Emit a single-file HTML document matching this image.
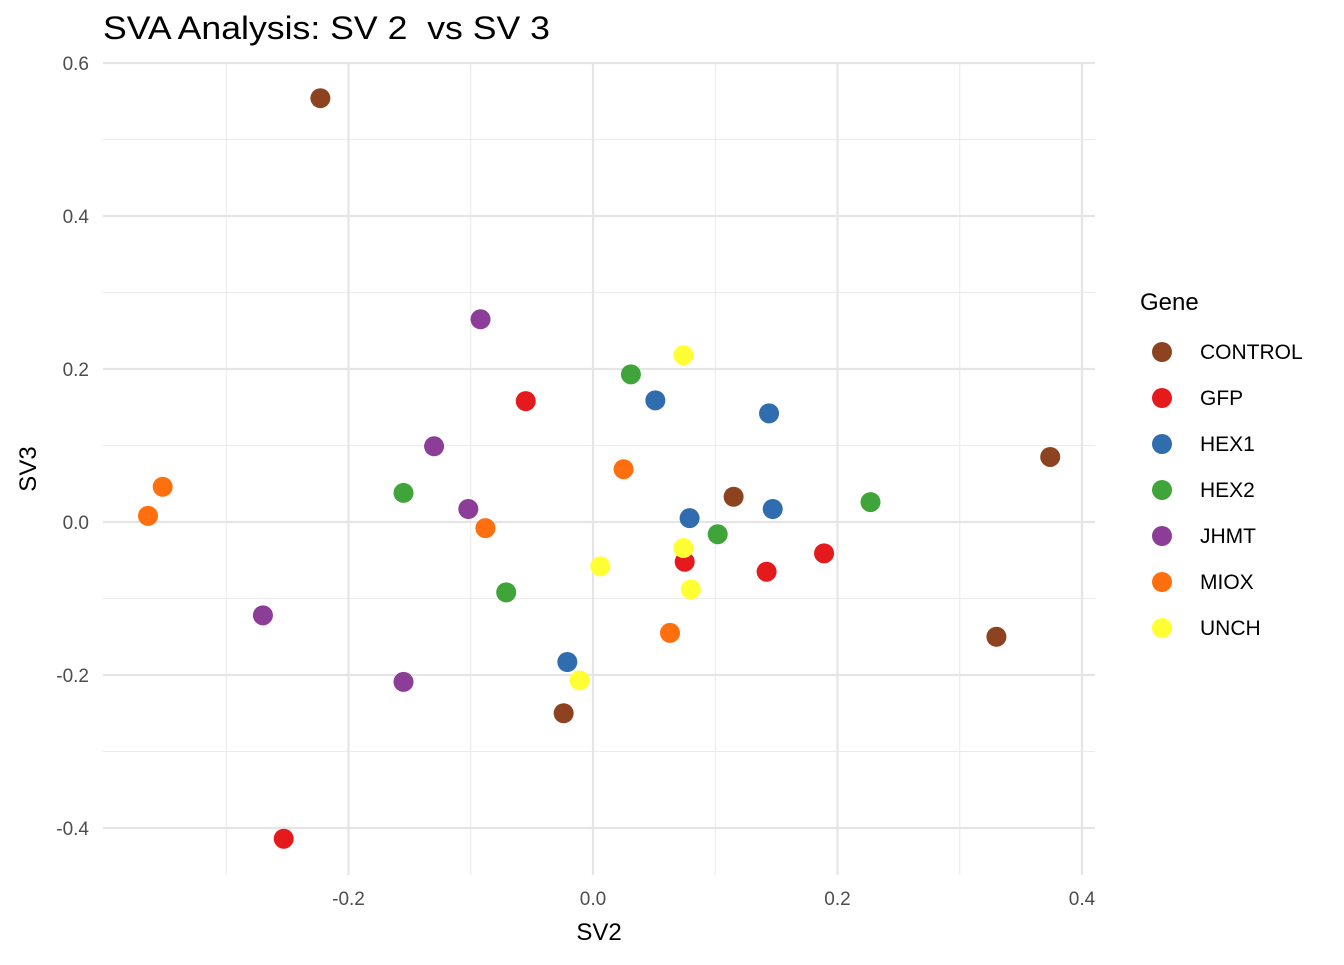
<!DOCTYPE html>
<html><head><meta charset="utf-8"><style>
body{margin:0;background:#fff;font-family:"Liberation Sans",Arial,sans-serif;}
svg text{font-family:"Liberation Sans",Arial,sans-serif;white-space:pre;}
</style></head><body>
<svg id="chart" width="1344" height="960" xmlns="http://www.w3.org/2000/svg">
<text x="103" y="39" font-size="32" textLength="447" lengthAdjust="spacingAndGlyphs" fill="#000">SVA Analysis: SV 2  vs SV 3</text>
<g id="grid"></g><g id="pts"></g><g id="axes"></g><g id="legend"></g>
<text x="599" y="940" font-size="24" text-anchor="middle" fill="#000">SV2</text>
<text transform="translate(36,469) rotate(-90)" font-size="24" text-anchor="middle" fill="#000">SV3</text>
</svg>
<script>
const groups=["CONTROL","GFP","HEX1","HEX2","JHMT","MIOX","UNCH"];
const colors=["#8E4320","#E41A1C","#2F6DAE","#3FA43A","#8B3D98","#FF6F0E","#FFFF33"];
const xVals=[
[-0.223,0.374,0.115,0.330,-0.024],
[-0.055,0.075,0.142,0.189,-0.253],
[0.051,0.144,0.079,0.147,-0.021],
[0.031,-0.155,0.102,0.227,-0.071],
[-0.092,-0.130,-0.102,-0.270,-0.155],
[-0.352,-0.364,0.025,-0.088,0.063],
[0.074,0.074,0.080,0.006,-0.011]];
const yVals=[
[0.554,0.085,0.033,-0.150,-0.250],
[0.158,-0.052,-0.065,-0.041,-0.414],
[0.159,0.142,0.005,0.017,-0.183],
[0.193,0.038,-0.016,0.026,-0.092],
[0.265,0.099,0.017,-0.122,-0.209],
[0.046,0.008,0.069,-0.008,-0.145],
[0.218,-0.034,-0.088,-0.058,-0.207]];
const xTicks=[-0.2,0,0.2,0.4];
const xTickLabels=["-0.2","0.0","0.2","0.4"];
const yTicks=[-0.4,-0.2,0,0.2,0.4,0.6];
const yTickLabels=["-0.4","-0.2","0.0","0.2","0.4","0.6"];
const xMinor=[-0.3,-0.1,0.1,0.3];
const yMinor=[-0.3,-0.1,0.1,0.3,0.5];
const NS="http://www.w3.org/2000/svg";
const L=103,R=1095,T=63,B=875;
const sx=v=>593+v*1222.5, sy=v=>522-v*765;
function mk(p,t,a){const e=document.createElementNS(NS,t);for(const k in a)e.setAttribute(k,a[k]);document.getElementById(p).appendChild(e);return e;}
xMinor.forEach(v=>{const e=mk("grid","line",{x1:sx(v),x2:sx(v),y1:T,y2:B,stroke:"#ebebeb","stroke-width":1.1});

});
yMinor.forEach(v=>{const e=mk("grid","line",{x1:L,x2:R,y1:sy(v),y2:sy(v),stroke:"#ebebeb","stroke-width":1.1});

});
xTicks.forEach((v,i)=>{const e=mk("grid","line",{x1:sx(v),x2:sx(v),y1:T,y2:B,stroke:"#e5e5e5","stroke-width":2.2});


const t=mk("axes","text",{x:sx(v),y:905,"font-size":19,"text-anchor":"middle",fill:"#4d4d4d"});t.textContent=xTickLabels[i];

});
yTicks.forEach((v,i)=>{const e=mk("grid","line",{x1:L,x2:R,y1:sy(v),y2:sy(v),stroke:"#e5e5e5","stroke-width":2.2});


const t=mk("axes","text",{x:89,y:sy(v)+7,"font-size":19,"text-anchor":"end",fill:"#4d4d4d"});t.textContent=yTickLabels[i];

});
groups.forEach((g,gi)=>{xVals[gi].forEach((x,j)=>{const c=mk("pts","circle",{cx:sx(x),cy:sy(yVals[gi][j]),r:10,fill:colors[gi]});

});
const c=mk("legend","circle",{cx:1162,cy:352+46*gi,r:10,fill:colors[gi]});


const t=mk("legend","text",{x:1200,y:359+46*gi,"font-size":21,fill:"#000"});t.textContent=g;

});
const lt=mk("legend","text",{x:1140,y:310,"font-size":24,fill:"#000"});lt.textContent="Gene";


</script>
</body></html>
